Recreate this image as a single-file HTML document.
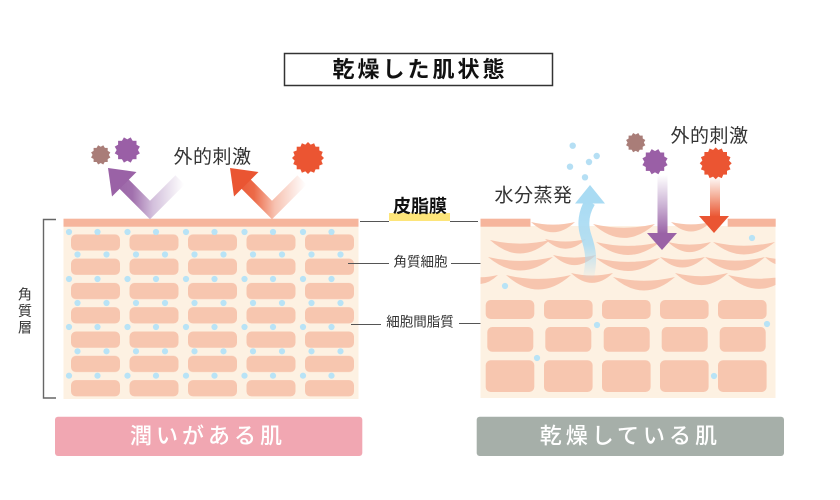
<!DOCTYPE html>
<html><head><meta charset="utf-8">
<style>
html,body{margin:0;padding:0;background:#fff;}
svg{display:block;}
.t{font-family:"Liberation Sans","Noto Sans CJK JP",sans-serif;fill:#333;}
</style></head>
<body>
<svg width="840" height="500" viewBox="0 0 840 500" xmlns="http://www.w3.org/2000/svg">
<defs>
  <pattern id="cellsL" patternUnits="userSpaceOnUse" x="71" y="234.3" width="58.5" height="24.3">
    <rect x="0" y="0" width="49" height="16.3" rx="5" fill="#f7c6af"/>
  </pattern>
  <linearGradient id="gPur" gradientUnits="userSpaceOnUse" x1="110" y1="0" x2="184" y2="0">
    <stop offset="0" stop-color="#9a62a6"/>
    <stop offset="0.3" stop-color="#a170ad"/>
    <stop offset="0.58" stop-color="#d3c0dc"/>
    <stop offset="1" stop-color="#ffffff"/>
  </linearGradient>
  <linearGradient id="gOra" gradientUnits="userSpaceOnUse" x1="232" y1="0" x2="306" y2="0">
    <stop offset="0" stop-color="#ea5532"/>
    <stop offset="0.3" stop-color="#ec6a48"/>
    <stop offset="0.58" stop-color="#f7c2b1"/>
    <stop offset="1" stop-color="#ffffff"/>
  </linearGradient>
  <linearGradient id="gPurV" gradientUnits="userSpaceOnUse" x1="0" y1="175" x2="0" y2="234">
    <stop offset="0" stop-color="#ffffff"/>
    <stop offset="0.5" stop-color="#cdb5d6"/>
    <stop offset="1" stop-color="#9a62a6"/>
  </linearGradient>
  <linearGradient id="gOraV" gradientUnits="userSpaceOnUse" x1="0" y1="176" x2="0" y2="217">
    <stop offset="0" stop-color="#ffffff"/>
    <stop offset="0.5" stop-color="#f4ad97"/>
    <stop offset="1" stop-color="#ea5532"/>
  </linearGradient>
  <linearGradient id="gBlue" gradientUnits="userSpaceOnUse" x1="0" y1="202" x2="0" y2="280">
    <stop offset="0" stop-color="#a9dbf3" stop-opacity="1"/>
    <stop offset="0.55" stop-color="#a9dbf3" stop-opacity="0.85"/>
    <stop offset="1" stop-color="#a9dbf3" stop-opacity="0"/>
  </linearGradient>
  <clipPath id="clipR"><rect x="480.5" y="200" width="295" height="100"/></clipPath>
</defs>

<!-- Title -->
<rect x="284.5" y="53.5" width="268" height="32" fill="#fff" stroke="#333" stroke-width="1.5"/>
<text class="t" x="420" y="69.5" font-size="22" font-weight="bold" letter-spacing="3" text-anchor="middle" dominant-baseline="central" style="fill:#111">乾燥した肌状態</text>

<!-- LEFT SKIN -->
<rect x="63.5" y="219" width="295" height="180" fill="#fdf1e2"/>
<rect x="63.5" y="218.7" width="295" height="8" fill="#f6b59c"/>
<rect x="71" y="234.3" width="287" height="164" fill="url(#cellsL)"/>
<g fill="#b8e3f6">
  <circle cx="69" cy="232" r="3.1"/><circle cx="97.5" cy="232" r="3.1"/><circle cx="127.5" cy="232" r="3.1"/><circle cx="156" cy="232" r="3.1"/><circle cx="186" cy="232" r="3.1"/><circle cx="214.5" cy="232" r="3.1"/><circle cx="244.5" cy="232" r="3.1"/><circle cx="273" cy="232" r="3.1"/><circle cx="303" cy="232" r="3.1"/><circle cx="331.5" cy="232" r="3.1"/>
  <circle cx="69" cy="279" r="3.1"/><circle cx="97.5" cy="279" r="3.1"/><circle cx="127.5" cy="279" r="3.1"/><circle cx="156" cy="279" r="3.1"/><circle cx="186" cy="279" r="3.1"/><circle cx="214.5" cy="279" r="3.1"/><circle cx="244.5" cy="279" r="3.1"/><circle cx="273" cy="279" r="3.1"/><circle cx="303" cy="279" r="3.1"/><circle cx="331.5" cy="279" r="3.1"/>
  <circle cx="69" cy="327" r="3.1"/><circle cx="97.5" cy="327" r="3.1"/><circle cx="127.5" cy="327" r="3.1"/><circle cx="156" cy="327" r="3.1"/><circle cx="186" cy="327" r="3.1"/><circle cx="214.5" cy="327" r="3.1"/><circle cx="244.5" cy="327" r="3.1"/><circle cx="273" cy="327" r="3.1"/><circle cx="303" cy="327" r="3.1"/><circle cx="331.5" cy="327" r="3.1"/>
  <circle cx="69" cy="375.7" r="3.1"/><circle cx="97.5" cy="375.7" r="3.1"/><circle cx="127.5" cy="375.7" r="3.1"/><circle cx="156" cy="375.7" r="3.1"/><circle cx="186" cy="375.7" r="3.1"/><circle cx="214.5" cy="375.7" r="3.1"/><circle cx="244.5" cy="375.7" r="3.1"/><circle cx="273" cy="375.7" r="3.1"/><circle cx="303" cy="375.7" r="3.1"/><circle cx="331.5" cy="375.7" r="3.1"/>
  <circle cx="77.5" cy="254.5" r="3.1"/><circle cx="106.5" cy="254.5" r="3.1"/><circle cx="136" cy="254.5" r="3.1"/><circle cx="165" cy="254.5" r="3.1"/><circle cx="194.5" cy="254.5" r="3.1"/><circle cx="223.5" cy="254.5" r="3.1"/><circle cx="253" cy="254.5" r="3.1"/><circle cx="282" cy="254.5" r="3.1"/><circle cx="311.5" cy="254.5" r="3.1"/><circle cx="340.5" cy="254.5" r="3.1"/>
  <circle cx="77.5" cy="303" r="3.1"/><circle cx="106.5" cy="303" r="3.1"/><circle cx="136" cy="303" r="3.1"/><circle cx="165" cy="303" r="3.1"/><circle cx="194.5" cy="303" r="3.1"/><circle cx="223.5" cy="303" r="3.1"/><circle cx="253" cy="303" r="3.1"/><circle cx="282" cy="303" r="3.1"/><circle cx="311.5" cy="303" r="3.1"/><circle cx="340.5" cy="303" r="3.1"/>
  <circle cx="77.5" cy="351.3" r="3.1"/><circle cx="106.5" cy="351.3" r="3.1"/><circle cx="136" cy="351.3" r="3.1"/><circle cx="165" cy="351.3" r="3.1"/><circle cx="194.5" cy="351.3" r="3.1"/><circle cx="223.5" cy="351.3" r="3.1"/><circle cx="253" cy="351.3" r="3.1"/><circle cx="282" cy="351.3" r="3.1"/><circle cx="311.5" cy="351.3" r="3.1"/><circle cx="340.5" cy="351.3" r="3.1"/>
</g>

<!-- Left bracket + label -->
<path d="M56,219.5 H43.5 V398 H56" fill="none" stroke="#666" stroke-width="1.4"/>
<text class="t" x="25" y="294.5" font-size="14" text-anchor="middle" dominant-baseline="central">角</text>
<text class="t" x="25" y="311" font-size="14" text-anchor="middle" dominant-baseline="central">質</text>
<text class="t" x="25" y="327.5" font-size="14" text-anchor="middle" dominant-baseline="central">層</text>

<!-- Left arrows -->
<path d="M124,184 L150,210 L180,180" fill="none" stroke="url(#gPur)" stroke-width="13" stroke-linejoin="miter" stroke-miterlimit="10"/>
<polygon points="108,168 136.5,172 112,196.5" fill="#9a62a6"/>
<path d="M246,184 L272,210 L302,180" fill="none" stroke="url(#gOra)" stroke-width="13" stroke-linejoin="miter" stroke-miterlimit="10"/>
<polygon points="230,168 258.5,172 234,196.5" fill="#ea5532"/>

<!-- Left stars -->
<g fill="#a97d78">
  <rect x="93.6" y="147.9" width="14.1" height="14.1"/>
  <rect x="93.6" y="147.9" width="14.1" height="14.1" transform="rotate(30 100.7 155)"/>
  <rect x="93.6" y="147.9" width="14.1" height="14.1" transform="rotate(60 100.7 155)"/>
</g>
<g fill="#9a5fa6">
  <rect x="118.1" y="140.8" width="18.4" height="18.4"/>
  <rect x="118.1" y="140.8" width="18.4" height="18.4" transform="rotate(30 127.3 150)"/>
  <rect x="118.1" y="140.8" width="18.4" height="18.4" transform="rotate(60 127.3 150)"/>
</g>
<g fill="#eb5532">
  <rect x="296.7" y="146.7" width="22.6" height="22.6"/>
  <rect x="296.7" y="146.7" width="22.6" height="22.6" transform="rotate(22.5 308 158)"/>
  <rect x="296.7" y="146.7" width="22.6" height="22.6" transform="rotate(45 308 158)"/>
  <rect x="296.7" y="146.7" width="22.6" height="22.6" transform="rotate(67.5 308 158)"/>
</g>
<text class="t" x="212.5" y="157.3" font-size="19" letter-spacing="0.5" text-anchor="middle" dominant-baseline="central">外的刺激</text>

<!-- Center labels -->
<rect x="389" y="213" width="61" height="8" fill="#fde57a"/>
<text class="t" x="420" y="206.5" font-size="18" font-weight="bold" text-anchor="middle" dominant-baseline="central" style="fill:#111">皮脂膜</text>
<g stroke="#555" stroke-width="1">
  <line x1="360" y1="221.5" x2="389" y2="221.5"/>
  <line x1="450" y1="221.5" x2="478" y2="221.5"/>
  <line x1="348" y1="263.5" x2="389" y2="263.5"/>
  <line x1="451" y1="263.5" x2="496" y2="263.5"/>
  <line x1="351" y1="324.5" x2="381" y2="324.5"/>
  <line x1="459" y1="323.5" x2="500" y2="323.5"/>
</g>
<text class="t" x="420.5" y="262" font-size="13.5" text-anchor="middle" dominant-baseline="central">角質細胞</text>
<text class="t" x="420" y="322" font-size="13.5" text-anchor="middle" dominant-baseline="central">細胞間脂質</text>

<!-- RIGHT SKIN -->
<rect x="480.5" y="226" width="295" height="172" fill="#fdf1e2"/>
<rect x="480.5" y="218.7" width="50" height="8" fill="#f6b59c"/>
<rect x="727.7" y="218.7" width="48" height="8" fill="#f6b59c"/>

<g fill="#f7c5ae" clip-path="url(#clipR)">
  <path d="M531,222 Q553,227.3 575,222 Q553,242.6 531,222Z"/>
  <path d="M593,224 Q624,231.4 655,224 Q624,251.8 593,224Z"/>
  <path d="M671,222 Q691,226.8 711,222 Q691,241 671,222Z"/>
  <path d="M490,240 Q520,247.2 550,240 Q520,267 490,240Z"/>
  <path d="M545,239 Q565.5,244 586,239 Q565.5,258.4 545,239Z"/>
  <path d="M596,242 Q628,249.7 660,242 Q628,268 596,242Z"/>
  <path d="M668,242 Q689.5,247.2 711,242 Q689.5,262.2 668,242Z"/>
  <path d="M713,242 Q744,249.4 775,242 Q744,267 713,242Z"/>
  <path d="M488,257 Q520.5,264.8 553,257 Q520.5,284 488,257Z"/>
  <path d="M553,255 Q574.5,260.2 596,255 Q574.5,275.2 553,255Z"/>
  <path d="M596,258 Q628,265.7 660,258 Q628,284 596,258Z"/>
  <path d="M660,257 Q682.5,262.4 705,257 Q682.5,278 660,257Z"/>
  <path d="M705,257 Q735,264.2 765,257 Q735,284 705,257Z"/>
  <path d="M765,257 Q782.5,261.2 800,257 Q782.5,274 765,257Z"/>
  <path d="M460,275 Q479,279.6 498,275 Q479,293.2 460,275Z"/>
  <path d="M506,275 Q538.5,282.8 571,275 Q538.5,304 506,275Z"/>
  <path d="M571,273 Q592,278 613,273 Q592,292.8 571,273Z"/>
  <path d="M613,277 Q644,284.4 675,277 Q644,304 613,277Z"/>
  <path d="M675,273 Q701.5,279.4 728,273 Q701.5,297.2 675,273Z"/>
  <path d="M728,275 Q759,282.4 790,275 Q759,302.8 728,275Z"/>
</g>

<!-- right cells -->
<g fill="#f7c6af">
  <rect x="485.7" y="300" width="48.6" height="19" rx="5"/>
  <rect x="544" y="300" width="48.6" height="19" rx="5"/>
  <rect x="602" y="300" width="48.6" height="19" rx="5"/>
  <rect x="660" y="300" width="48.6" height="19" rx="5"/>
  <rect x="718" y="300" width="48.6" height="19" rx="5"/>
  <rect x="487.3" y="327" width="46" height="24.7" rx="5"/>
  <rect x="545.3" y="327" width="46" height="24.7" rx="5"/>
  <rect x="603.7" y="327" width="46" height="24.7" rx="5"/>
  <rect x="661.7" y="327" width="46" height="24.7" rx="5"/>
  <rect x="719.7" y="327" width="46" height="24.7" rx="5"/>
  <rect x="485.7" y="360.3" width="48.6" height="31.7" rx="5"/>
  <rect x="544" y="360.3" width="48.6" height="31.7" rx="5"/>
  <rect x="602" y="360.3" width="48.6" height="31.7" rx="5"/>
  <rect x="660" y="360.3" width="48.6" height="31.7" rx="5"/>
  <rect x="718" y="360.3" width="48.6" height="31.7" rx="5"/>
</g>
<g fill="#b8e3f6">
  <circle cx="505" cy="286" r="3.1"/>
  <circle cx="597" cy="325" r="3.1"/>
  <circle cx="767" cy="324" r="3.1"/>
  <circle cx="537" cy="358" r="3.1"/>
  <circle cx="714" cy="376" r="3.1"/>
  <circle cx="752" cy="238" r="3.1"/>
</g>

<!-- blue evaporation arrow -->
<path d="M590,202 C584,212 582,224 586,236 C590,248 593,258 588,279" fill="none" stroke="url(#gBlue)" stroke-width="11"/>
<polygon points="575,203.5 605,203.5 590,185" fill="#a9dbf3"/>
<g fill="#b5dff4">
  <circle cx="572.7" cy="145.7" r="3.2"/>
  <circle cx="596.7" cy="156" r="3.2"/>
  <circle cx="589" cy="162" r="3.2"/>
  <circle cx="570" cy="166.7" r="3.2"/>
  <circle cx="585" cy="177.3" r="3.2"/>
</g>
<text class="t" x="533.5" y="196" font-size="19" letter-spacing="0.5" text-anchor="middle" dominant-baseline="central">水分蒸発</text>

<!-- right down arrows -->
<rect x="657.5" y="175" width="10" height="59" fill="url(#gPurV)"/>
<polygon points="647,233 677,233 662,250" fill="#9a62a6"/>
<rect x="710" y="176" width="10" height="41" fill="url(#gOraV)"/>
<polygon points="699,216 729,216 714,233" fill="#ea5532"/>

<!-- right stars -->
<g fill="#a97d78">
  <rect x="628.6" y="135.6" width="14.1" height="14.1"/>
  <rect x="628.6" y="135.6" width="14.1" height="14.1" transform="rotate(30 635.7 142.7)"/>
  <rect x="628.6" y="135.6" width="14.1" height="14.1" transform="rotate(60 635.7 142.7)"/>
</g>
<g fill="#9a5fa6">
  <rect x="645.8" y="152.5" width="18.4" height="18.4"/>
  <rect x="645.8" y="152.5" width="18.4" height="18.4" transform="rotate(30 655 161.7)"/>
  <rect x="645.8" y="152.5" width="18.4" height="18.4" transform="rotate(60 655 161.7)"/>
</g>
<g fill="#eb5532">
  <rect x="704.4" y="152" width="22.6" height="22.6"/>
  <rect x="704.4" y="152" width="22.6" height="22.6" transform="rotate(22.5 715.7 163.3)"/>
  <rect x="704.4" y="152" width="22.6" height="22.6" transform="rotate(45 715.7 163.3)"/>
  <rect x="704.4" y="152" width="22.6" height="22.6" transform="rotate(67.5 715.7 163.3)"/>
</g>
<text class="t" x="709.5" y="136.7" font-size="19" letter-spacing="0.5" text-anchor="middle" dominant-baseline="central">外的刺激</text>

<!-- bottom labels -->
<rect x="55" y="416.7" width="307.3" height="39.3" rx="3" fill="#f1a7b2"/>
<text class="t" x="208" y="436" font-size="22" font-weight="500" letter-spacing="4" text-anchor="middle" dominant-baseline="central" style="fill:#fff">潤いがある肌</text>
<rect x="476.7" y="416.7" width="307.3" height="39.3" rx="3" fill="#a6afa9"/>
<text class="t" x="630.4" y="436" font-size="22" font-weight="500" letter-spacing="4" text-anchor="middle" dominant-baseline="central" style="fill:#fff">乾燥している肌</text>
</svg>
</body></html>
